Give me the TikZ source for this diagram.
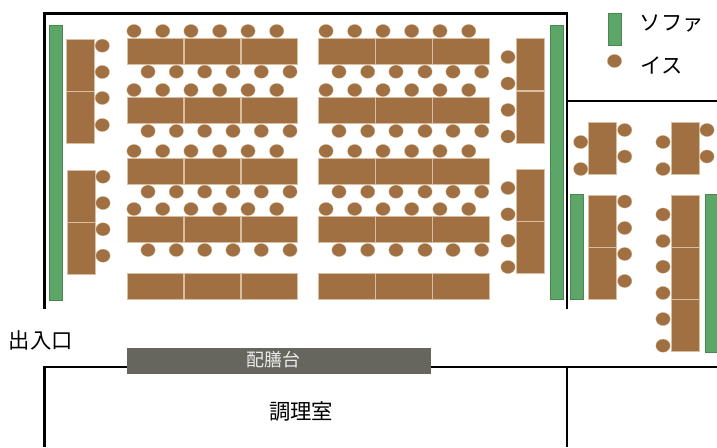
\documentclass[tikz,border=0pt]{standalone}
\usepackage{fontspec}
\newfontfamily\jpfont{Noto Sans CJK JP}
\definecolor{deskbrown}{HTML}{A07042}
\definecolor{deskedge}{HTML}{D9BF9F}
\definecolor{sofagreen}{HTML}{5CA668}
\definecolor{servegray}{HTML}{66665F}
\tikzset{
    %Define style for walls
    wall/.style={
           draw=black,
           line width=1.8pt},
    %Define style for furniture
    desk/.style={
           fill=deskbrown,
           draw=deskedge,
           line width=0.5pt},
    sofa/.style={
           fill=sofagreen,
           draw=sofagreen!80!black,
           line width=0.3pt},
    chair/.style={
           fill=deskbrown,
           draw=deskedge,
           line width=0.2pt},
    % Define label style
    lbl/.style={
           font=\jpfont\fontsize{16}{16}\selectfont,
           inner sep=0pt}
}
\begin{document}
\begin{tikzpicture}[x=0.75pt,y=-0.75pt]
    \useasboundingbox (0,0) rectangle (717,447);
    % walls
    \draw[wall] (44.5,309) -- (44.5,13.5) -- (567,13.5) -- (567,309);
    \draw[wall] (567,101) -- (717,101);
    \draw[wall] (44.5,447) -- (44.5,367) -- (717,367);
    \draw[wall] (567,367) -- (567,447);
    % serving table
    \fill[servegray] (126.5,347.5) rectangle (430.5,373.5);
    % sofas
    \draw[sofa] (49,25) rectangle (62,300);
    \draw[sofa] (550,25) rectangle (563.5,299.5);
    \draw[sofa] (570.5,194.5) rectangle (583.5,299.5);
    \draw[sofa] (705,194.5) rectangle (718,352.5);
    \draw[sofa] (608,13.5) rectangle (621,45);
    % long desks
    \foreach \rowy in {38.3,97.5,158,216.7,273.5}
      \foreach \colx in {127,184,241,318.5,375.5,432.5}
        \draw[desk] (\colx,\rowy) rectangle ++(56.7,26);
    % chairs of the long desks
    \foreach \rowy in {31,90,151,209}
      \foreach \colx in {134,162.7,191,219.7,248,276.7,326,354.7,383,411.7,440,468.7}
        \fill[chair] (\colx,\rowy) circle[x radius=7.2,y radius=6.6];
    \foreach \rowy in {71.7,131,191.7,250}
      \foreach \colx in {148,176.3,204.7,233,261.3,290,339,367.7,396,425,453,481.7}
        \fill[chair] (\colx,\rowy) circle[x radius=7.2,y radius=6.6];
    % upright desks
    \foreach \colx/\rowy in {66.3/39,66.3/91,67.3/170,67.3/222,
                             516.7/38.5,516.7/91,516.7/169,516.7/221,
                             588.7/122,671/122,588.7/195,588.7/247,
                             671/195,671/247,671/299.5}
      \draw[desk] (\colx,\rowy) rectangle ++(28,52.3);
    % chairs of the upright desks
    \foreach \colx/\rowy in {102.3/45.7,102.3/72,102.3/98,102.3/125,
                             103/176.7,103/203,103/229.3,103/255.7,
                             508/57,508/83.5,508/110,508/136.5,
                             508/188,508/214.3,508/240.7,508/267,
                             624.7/130,624.7/156.5,580.7/142,580.7/169,
                             707/130,707/156.5,663/142,663/169,
                             624.7/201.5,624.7/228,624.7/254,624.7/281,
                             663/214.5,663/241,663/266.7,663/293,663/319,663/345.7}
      \fill[chair] (\colx,\rowy) circle[x radius=7.2,y radius=6.6];
    % legend and names
    \fill[chair] (614.5,61) circle[x radius=7.2,y radius=6.6];
    \node (sofalabel) [lbl,anchor=west] at (639.5,24) {ソファ};
    \node (chairlabel) [lbl,anchor=west] at (640.5,65.5) {イス};
    \node (entrance) [lbl,anchor=west] at (8.5,340) {出入口};
    \node (kitchen) [lbl] at (301,411.5) {調理室};
    \node (serving) [lbl,text=white!92!black,font=\jpfont\fontsize{13.5}{13.5}\selectfont] at (273,359.5) {配膳台};
\end{tikzpicture}
\end{document}
